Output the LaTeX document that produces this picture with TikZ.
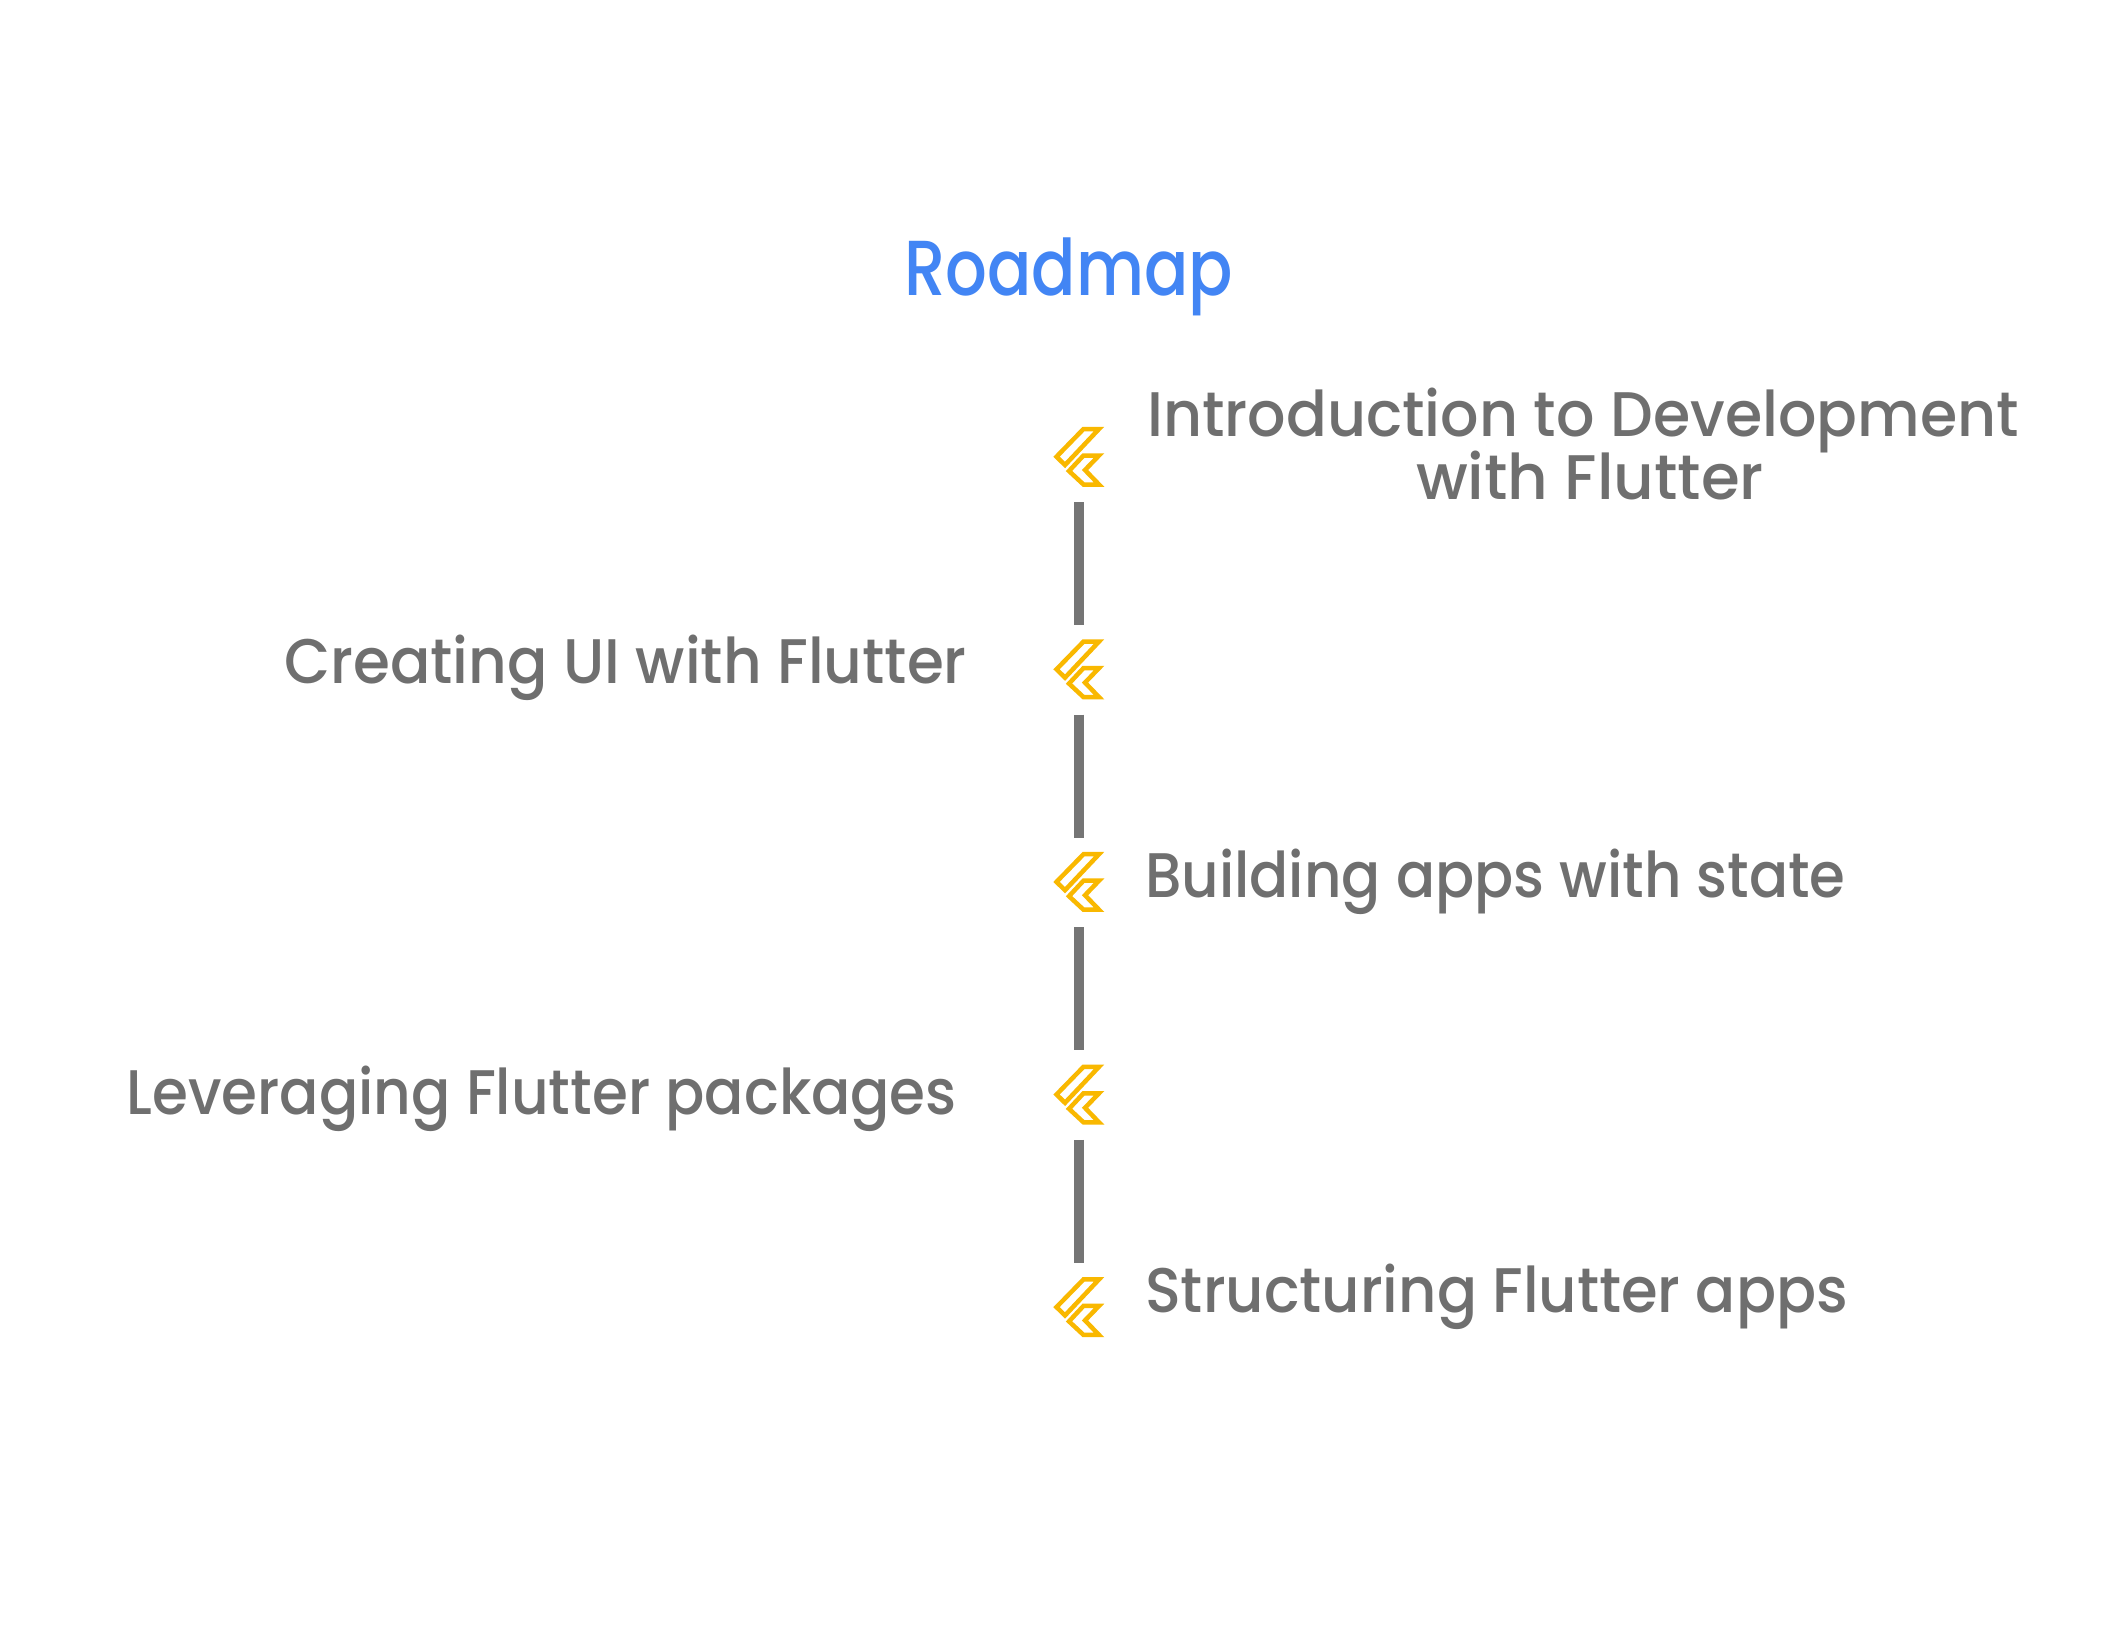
\documentclass[tikz,border=0pt]{standalone}
\usepackage{fontspec}
\usepackage{graphicx}
\setmainfont{Poppins}
\definecolor{bluet}{HTML}{4285F4}
\definecolor{grayt}{HTML}{6F6F6F}
\definecolor{grayl}{HTML}{757575}
\definecolor{gold}{HTML}{F9B800}
\newfontfamily\lblfont[FakeStretch=0.92]{Poppins Medium}
\newfontfamily\ttlfont[FakeStretch=0.84]{Poppins Medium}
\tikzset{
  lbl/.style={text=grayt,font=\lblfont\fontsize{63}{65}\selectfont,inner sep=0pt,anchor=base west,align=center},
  ttl/.style={text=bluet,font=\ttlfont\fontsize{78}{80}\selectfont,inner sep=0pt,anchor=base west},
  link/.style={draw=grayl,line width=10pt},
  ico/.style={draw=gold,line width=4.5pt,line join=miter,fill=none},
  pics/flutter/.style={code={
    \draw[ico] (1056.5,456.7) -- (1083.5,429) -- (1099,429) -- (1065,465) -- cycle;
    \draw[ico] (1069,471) -- (1083.5,455.5) -- (1099,455.5) -- (1085,470) -- (1099,484.5) -- (1083.5,484.5) -- cycle;
  }}
}
\begin{document}
\begin{tikzpicture}[x=1pt,y=-1pt]
\useasboundingbox (0,0) rectangle (2120,1636);
\fill[white] (0,0) rectangle (2120,1636);
\node[ttl] (title) at (904,295) {Roadmap};
\foreach \i in {0,1,2,3,4}{ \pic at (0,{\i*212.6}) {flutter}; }
\coordinate (a0) at (1079,502); \coordinate (b0) at (1079,625);
\coordinate (a1) at (1079,714.6); \coordinate (b1) at (1079,837.6);
\coordinate (a2) at (1079,927.2); \coordinate (b2) at (1079,1050.2);
\coordinate (a3) at (1079,1139.8); \coordinate (b3) at (1079,1262.8);
\draw[link] (a0) -- (b0);
\draw[link] (a1) -- (b1);
\draw[link] (a2) -- (b2);
\draw[link] (a3) -- (b3);
\node[lbl,anchor=base] (t1a) at (1583,436) {\scalebox{1.04}[1]{Introduction to Development}};
\node[lbl,anchor=base] (t1b) at (1590,499) {\scalebox{1.083}[1]{with Flutter}};
\node[lbl,anchor=base east] (t2) at (967,683) {\scalebox{1.03}[1]{Creating UI with Flutter}};
\node[lbl] (t3) at (1145,897) {\scalebox{0.998}[1]{Building apps with state}};
\node[lbl,anchor=base east] (t4) at (957,1114) {\scalebox{1.002}[1]{Leveraging Flutter packages}};
\node[lbl] (t5) at (1145,1312) {\scalebox{1.022}[1]{Structuring Flutter apps}};
\end{tikzpicture}
\end{document}
